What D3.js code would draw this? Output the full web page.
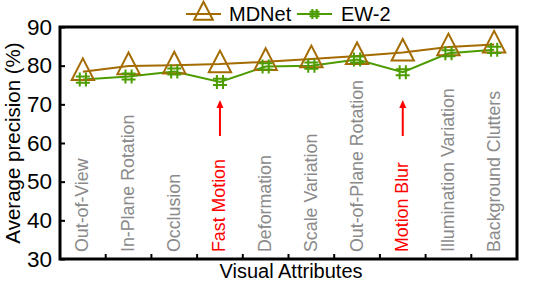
<!DOCTYPE html>
<html><head><meta charset="utf-8">
<script src="https://cdn.jsdelivr.net/npm/d3@7"></script>
<style>body{margin:0;background:#fff}svg{display:block}text{font-family:"Liberation Sans",Arial,sans-serif}</style>
</head><body><svg id="c" width="538" height="284"></svg>
<script>
const categories = ["Out-of-View","In-Plane Rotation","Occlusion","Fast Motion","Deformation","Scale Variation","Out-of-Plane Rotation","Motion Blur","Illumination Variation","Background Clutters"];
const mdnet = [78.4, 79.9, 80.1, 80.4, 81.0, 81.7, 82.5, 83.4, 84.8, 85.5];
const ew2 = [76.4, 77.2, 78.5, 75.8, 79.8, 80.0, 81.6, 78.3, 83.2, 84.1];
const highlighted = ["Fast Motion","Motion Blur"];
const yTicks = [30,40,50,60,70,80,90];

const svg = d3.select("#c");
const m = {l:60, r:21, t:27, b:25};
const W = 538, H = 284;
const x = d3.scaleBand().domain(categories).range([m.l, W-m.r]);
const y = d3.scaleLinear().domain([30,90]).range([H-m.b, m.t]);
const cx = d => x(d) + x.bandwidth()/2;
const brown = "#a46b00", green = "#4c9c00";

// category labels
svg.append("g").selectAll("text").data(categories).join("text")
  .attr("transform", d => `translate(${cx(d)+5.5},${H-m.b-7}) rotate(-90)`)
  .attr("font-size", 17.8).attr("fill", d => highlighted.includes(d) ? "#ff0000" : "#8a8a8a")
  .text(d => d);

// arrows
highlighted.forEach(h => {
  const ax = cx(h);
  svg.append("line").attr("x1", ax).attr("x2", ax).attr("y1", 136).attr("y2", 106)
    .attr("stroke", "#ff0000").attr("stroke-width", 2);
  svg.append("path").attr("d", `M${ax-3.5},${108} L${ax},${100} L${ax+3.5},${108} Z`).attr("fill", "#ff0000");
});

// lines
const line = d3.line().x((d,i) => cx(categories[i])).y(d => y(d));
svg.append("path").datum(mdnet).attr("d", line).attr("fill","none").attr("stroke",brown).attr("stroke-width",2);
svg.append("path").datum(ew2).attr("d", line).attr("fill","none").attr("stroke",green).attr("stroke-width",2);

function tri(g, px, py, s) {
  g.append("path").attr("d", `M${px},${py-s*0.75} L${px+s*0.62},${py+s*0.45} L${px-s*0.62},${py+s*0.45} Z`)
    .attr("fill","none").attr("stroke",brown).attr("stroke-width",2);
}
function hash(g, px, py, s) {
  const h = s/2, o = s*0.22;
  g.append("path").attr("d",
    `M${px-o},${py-h} V${py+h} M${px+o},${py-h} V${py+h} M${px-h},${py-o} H${px+h} M${px-h},${py+o} H${px+h}`)
    .attr("stroke",green).attr("stroke-width",2).attr("fill","none");
}
const gm = svg.append("g");
mdnet.forEach((v,i) => tri(gm, cx(categories[i]), y(v), 18));
const ge = svg.append("g");
ew2.forEach((v,i) => hash(ge, cx(categories[i]), y(v), 14));

// axes frame
svg.append("rect").attr("x", m.l).attr("y", m.t).attr("width", W-m.r-m.l).attr("height", H-m.b-m.t)
  .attr("fill","none").attr("stroke","#000").attr("stroke-width",3);
const yAxis = d3.axisLeft(y).tickValues(yTicks).tickSize(-5).tickPadding(8);
const gy = svg.append("g").attr("transform", `translate(${m.l},0)`).call(yAxis);
gy.select(".domain").remove();
gy.selectAll(".tick line").attr("stroke","#000").attr("stroke-width",2);
gy.selectAll(".tick text").attr("font-size",22.5).attr("fill","#000").attr("font-family","Liberation Sans, Arial, sans-serif");

const bounds = categories.slice(1).map(c => x(c));
svg.append("g").selectAll("line").data(bounds).join("line")
  .attr("x1", d => d).attr("x2", d => d).attr("y1", H-m.b).attr("y2", H-m.b-5)
  .attr("stroke","#000").attr("stroke-width",2);

// titles
svg.append("text").attr("transform", `translate(20,${(m.t+H-m.b)/2}) rotate(-90)`)
  .attr("text-anchor","middle").attr("font-size",20.5).text("Average precision (%)");
svg.append("text").attr("x", 291).attr("y", 278).attr("text-anchor","middle").attr("font-size",20).text("Visual Attributes");

// legend
const lg = svg.append("g");
lg.append("line").attr("x1",186).attr("x2",221).attr("y1",14).attr("y2",14).attr("stroke",brown).attr("stroke-width",2);
tri(lg, 203.5, 13, 15);
lg.append("text").attr("x",229).attr("y",21).attr("font-size",20).text("MDNet");
lg.append("line").attr("x1",297).attr("x2",332).attr("y1",14).attr("y2",14).attr("stroke",green).attr("stroke-width",2);
hash(lg, 314.5, 14, 10);
lg.append("text").attr("x",341).attr("y",21).attr("font-size",20).text("EW-2");
</script></body></html>
